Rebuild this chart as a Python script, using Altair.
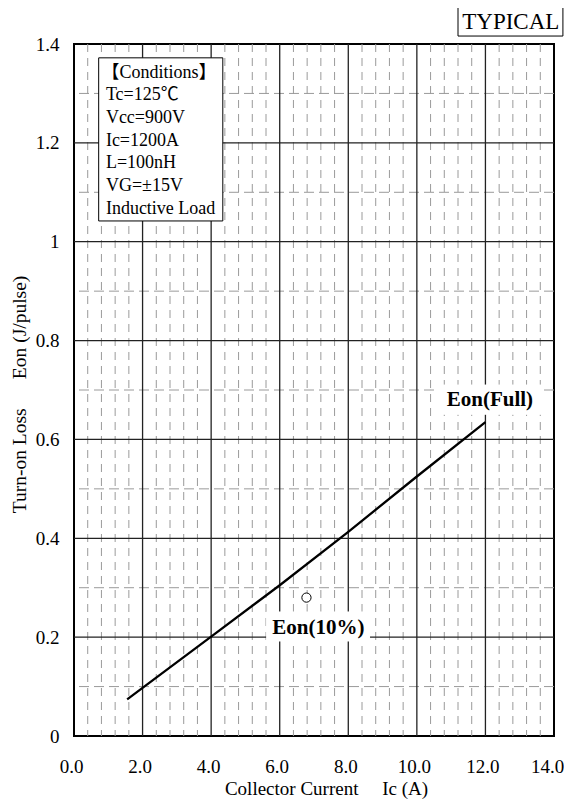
import altair as alt
import pandas as pd

SERIF = "Liberation Serif, Noto Sans CJK JP"

# ---- data ----
ic_full = [1.55, 4.0, 6.0, 8.0, 10.0, 12.0]
eon_full = [0.074, 0.201, 0.305, 0.413, 0.525, 0.635]

ic_10 = [6.78]
eon_10 = [0.280]

x_ticks = [0.0, 2.0, 4.0, 6.0, 8.0, 10.0, 12.0, 14.0]
y_ticks = [0.0, 0.2, 0.4, 0.6, 0.8, 1.0, 1.2, 1.4]
x_major = [2.0, 4.0, 6.0, 8.0, 10.0, 12.0]
y_major = [0.2, 0.4, 0.6, 0.8, 1.0, 1.2]
x_minor = [round(i * 0.4, 1) for i in range(1, 35) if round(i * 0.4, 1) % 2 != 0]
y_minor = [0.1, 0.3, 0.5, 0.7, 0.9, 1.1, 1.3]

conditions = ["【Conditions】", "Tc=125℃", "Vcc=900V", "Ic=1200A",
              "L=100nH", "VG=±15V", "Inductive Load"]

W, H = 480, 692
xs = alt.Scale(domain=[0, 14], nice=False, zero=False)
ys = alt.Scale(domain=[0, 1.4], nice=False, zero=False)

NB = "\u00a0"
XT = "Collector Current" + NB * 5 + "Ic (A)"
YT = "Turn-on Loss" + NB * 6 + "Eon (J/pulse)"
xaxis = alt.Axis(values=x_ticks, format=".1f", labelPadding=21,
                 labelFont=SERIF, labelFontSize=19,
                 labelOffset={"condition": {"test": "datum.value >= 14", "value": -7}, "value": -3},
                 titleX=252, titleY=58)
yaxis = alt.Axis(values=y_ticks, format="~g", labelPadding=15,
                 labelFont=SERIF, labelFontSize=19,
                 titleX=-49, titleY=350, titleAngle=270, titleFontSize=19.5)


def X(field="x"):
    return alt.X(field + ":Q", scale=xs, axis=xaxis, title=XT)


def Y(field="y"):
    return alt.Y(field + ":Q", scale=ys, axis=yaxis, title=YT)


# grid layers
vminor = alt.Chart(pd.DataFrame({"x": x_minor})).mark_rule(
    color="#9a9a9a", strokeWidth=1, strokeDash=[8, 6]).encode(x=X())
hminor = alt.Chart(pd.DataFrame({"y": y_minor})).mark_rule(
    color="#9a9a9a", strokeWidth=1, strokeDash=[10, 5]).encode(y=Y())
vmajor = alt.Chart(pd.DataFrame({"x": x_major})).mark_rule(
    color="#222222", strokeWidth=1.3).encode(x=X())
hmajor = alt.Chart(pd.DataFrame({"y": y_major})).mark_rule(
    color="#222222", strokeWidth=1.3).encode(y=Y())

# white boxes (annotation backgrounds), in data coordinates
boxes = pd.DataFrame({
    "x": [0.72, 10.60, 5.62], "x2": [4.34, 13.66, 8.62],
    "y": [1.372, 0.710, 0.2509], "y2": [1.042, 0.651, 0.1922],
    "stroke": ["black", "white", "white"],
})
box_layer = alt.Chart(boxes).mark_rect(fill="white", strokeWidth=1).encode(
    x=X(), x2="x2:Q", y=Y(), y2="y2:Q",
    stroke=alt.Stroke("stroke:N", scale=None))

line = alt.Chart(pd.DataFrame({"x": ic_full, "y": eon_full})).mark_line(
    color="black", strokeWidth=2.3).encode(x=X(), y=Y())

pt = alt.Chart(pd.DataFrame({"x": ic_10, "y": eon_10})).mark_point(
    shape="circle", size=85, stroke="black", fill="white", strokeWidth=1,
    filled=True, opacity=1, fillOpacity=1).encode(x=X(), y=Y())

labels = pd.DataFrame({"x": [12.13, 7.13], "y": [0.6676, 0.2063],
                       "t": ["Eon(Full)", "Eon(10%)"]})
label_layer = alt.Chart(labels).mark_text(
    font=SERIF, fontSize=21, fontWeight="bold", color="black",
    align="center", baseline="alphabetic").encode(x=X(), y=Y(), text="t:N")

# conditions text
cond_df = pd.DataFrame({
    "t": conditions,
    "x": [0.80] + [0.93] * (len(conditions) - 1),
    "y": [1.342 - i * 0.0459 for i in range(len(conditions))],
})
cond_layer = alt.Chart(cond_df).mark_text(
    font=SERIF, fontSize=18, color="black", align="left", baseline="middle").encode(
    x=X(), y=Y(), text="t:N")

# TYPICAL tag above the plot
typ_box = alt.Chart(pd.DataFrame({"x": [11.20], "x2": [14.26], "y": [1.4789], "y2": [1.4161]})).mark_rect(
    fill="white", stroke="black", strokeWidth=1).encode(x=X(), x2="x2:Q", y=Y(), y2="y2:Q")
typ_txt = alt.Chart(pd.DataFrame({"x": [12.74], "y": [1.4303], "t": ["TYPICAL"]})).mark_text(
    font=SERIF, fontSize=23, color="black", align="center", baseline="alphabetic").encode(
    x=X(), y=Y(), text="t:N")

chart = alt.layer(vminor, hminor, vmajor, hmajor, box_layer, line, pt, label_layer,
                  cond_layer, typ_box, typ_txt).properties(
    width=W, height=H,
    autosize=alt.AutoSizeParams(type="none"),
    padding={"left": 66, "top": 36, "right": 10, "bottom": 63},
    background="white",
).configure_view(stroke="black", strokeWidth=2).configure_axis(
    grid=False, ticks=False, domain=False,
    labelFont=SERIF, labelFontSize=19, labelColor="black",
    labelFlush=False, labelOverlap=False,
    titleFont=SERIF, titleFontSize=19, titleFontWeight="normal", titleColor="black",
    titleBaseline="alphabetic", titleAlign="center",
)

chart.save("out.html", embed_options={"renderer": "svg", "actions": False})
